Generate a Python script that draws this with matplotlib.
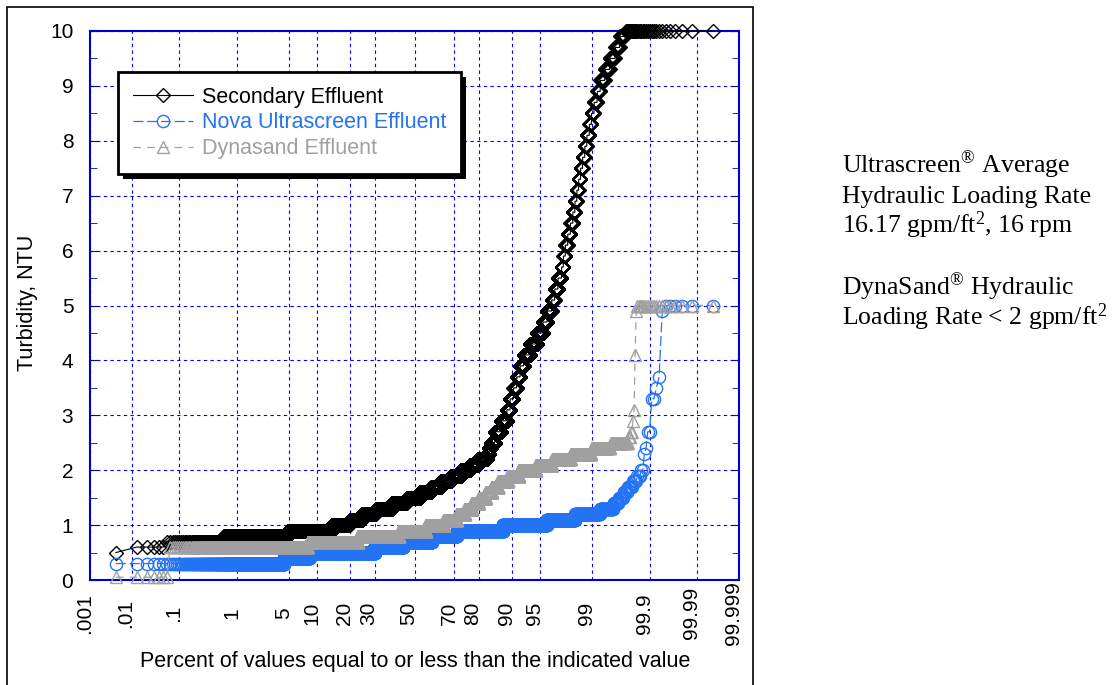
import numpy as np
import matplotlib
matplotlib.use("Agg")
import matplotlib.pyplot as plt
from matplotlib.patches import Rectangle
from matplotlib.transforms import IdentityTransform
from matplotlib.ticker import MultipleLocator, NullLocator
from statistics import NormalDist

# turbidity levels (NTU) and number of readings at each level
sec_turb = [0.5, 0.6, 0.7, 0.8, 0.9, 1.0, 1.1, 1.2, 1.3, 1.4, 1.5, 1.6, 1.7, 1.8, 1.9,
            2.0, 2.1, 2.2, 2.3, 2.4, 2.5, 2.7, 2.9, 3.1, 3.3, 3.5, 3.7, 3.9, 4.1, 4.3,
            4.5, 4.7, 4.9, 5.1, 5.3, 5.5, 5.7, 5.9, 6.1, 6.3, 6.5, 6.7, 6.9, 7.1, 7.3,
            7.5, 7.7, 7.9, 8.1, 8.3, 8.5, 8.7, 8.9, 9.1, 9.3, 9.5, 9.7, 9.9, 10.0]
sec_count = [1, 5, 63, 483, 1058, 650, 560, 678, 909, 862, 805, 690, 575, 541, 494,
             437, 357, 368, 80, 81, 126, 196, 184, 92, 92, 80, 81, 80, 127, 126,
             92, 58, 57, 35, 34, 35, 17, 17, 20, 20, 18, 14, 12, 11, 11,
             11, 11, 10, 11, 9, 10, 11, 10, 13, 12, 11, 8, 8, 32]

nova_turb = [0.3, 0.4, 0.5, 0.6, 0.7, 0.8, 0.9, 1.0, 1.1, 1.2, 1.3, 1.4, 1.5, 1.6,
             1.7, 1.8, 1.9, 2.0, 2.3, 2.4, 2.7, 3.3, 3.5, 3.7, 4.9, 5.0]
nova_count = [495, 471, 2484, 1599, 1725, 1391, 1932, 932, 272, 115, 33, 9, 7, 6,
              5, 4, 3, 2, 1, 1, 2, 2, 1, 1, 1, 6]

dyna_turb = [0.05, 0.6, 0.7, 0.8, 0.9, 1.0, 1.1, 1.2, 1.3, 1.4, 1.5, 1.6, 1.7, 1.8,
             1.9, 2.0, 2.1, 2.2, 2.3, 2.4, 2.5, 2.6, 2.7, 2.9, 3.1, 4.1, 4.9, 5.0]
dyna_count = [7, 913, 1725, 2185, 1610, 1035, 690, 403, 345, 287, 288, 230, 230, 287,
              288, 345, 230, 172, 115, 58, 29, 2, 2, 1, 1, 1, 1, 20]

pct_ticks = [0.001, 0.01, 0.1, 1, 5, 10, 20, 30, 50, 70, 80, 90, 95, 99, 99.9, 99.99, 99.999]
pct_labels = [".001", ".01", ".1", "1", "5", "10", "20", "30", "50", "70", "80", "90",
              "95", "99", "99.9", "99.99", "99.999"]

_nd = NormalDist()
_ppf = np.vectorize(lambda v: _nd.inv_cdf(v / 100.0), otypes=[float])
_cdf = np.vectorize(lambda v: 100.0 * _nd.cdf(v), otypes=[float])


def pct_to_z(p):
    p = np.clip(np.asarray(p, dtype=float), 1e-7, 100 - 1e-7)
    return _ppf(p)


def z_to_pct(z):
    return _cdf(np.asarray(z, dtype=float))


def sorted_sample(turb, count):
    vals = np.repeat(turb, count)
    n = len(vals)
    pos = 100.0 * (np.arange(1, n + 1) - 0.5) / n
    return pos, vals


plt.rcParams["font.family"] = ["Liberation Sans", "DejaVu Sans"]
plt.rcParams["mathtext.fontset"] = "custom"
plt.rcParams["mathtext.rm"] = "Liberation Serif"
plt.rcParams["mathtext.it"] = "Liberation Serif:italic"

W, H = 1117, 685
fig = plt.figure(figsize=(W / 100, H / 100), dpi=100)
ax = fig.add_axes([90 / W, (H - 580) / H, 649 / W, 549 / H])
ax.set_xscale("function", functions=(pct_to_z, z_to_pct))

blue = "#2373f5"
grey = "#a0a0a0"

x, y = sorted_sample(sec_turb, sec_count)
ax.plot(x, y, color="black", lw=0.8, marker="D", ms=6.8, mfc="none", mew=1.0,
        label="Secondary Effluent", clip_on=False, zorder=3)
x, y = sorted_sample(nova_turb, nova_count)
ax.plot(x, y, color=blue, lw=0.9, ls=(0, (8, 3)), marker="o", ms=8.8, mfc="none",
        mew=1.0, label="Nova Ultrascreen Effluent", clip_on=False, zorder=3)
x, y = sorted_sample(dyna_turb, dyna_count)
ax.plot(x, y, color=grey, lw=0.9, ls=(0, (6, 5)), marker="^", ms=8.5, mfc="none",
        mew=1.0, label="Dynasand Effluent", clip_on=False, zorder=3)

ax.set_xlim(0.001, 99.999)
ax.set_ylim(0, 10)
ax.set_xticks(pct_ticks, pct_labels, rotation=90, ha="center", va="baseline",
              rotation_mode="anchor", fontsize=15)
ax.xaxis.set_minor_locator(NullLocator())
ax.set_yticks(range(11))
ax.yaxis.set_minor_locator(MultipleLocator(0.5))
ax.tick_params(axis="y", which="both", direction="in", left=True, right=True,
               color="#0000cc", labelsize=15, pad=12)
ax.tick_params(axis="y", which="major", length=6)
ax.tick_params(axis="y", which="minor", length=5)
ax.tick_params(axis="x", length=0, pad=24)

ax.grid(True, which="major", color="#0000ff", ls=(0, (3, 3)), lw=0.8)
for s in ax.spines.values():
    s.set_color("#0000cc")
    s.set_linewidth(1.5)

leg = ax.legend(loc="upper left", bbox_to_anchor=(28 / 649, (580 - 72) / 549),
                borderaxespad=0, frameon=True, fancybox=False, edgecolor="black",
                framealpha=1, labelcolor="linecolor", prop={"size": 15.5},
                handlelength=2.8, handletextpad=0.4, borderpad=0.68,
                labelspacing=0.22)
leg.get_frame().set_linewidth(2)

fig.text(27 / W, 1 - 303 / H, "Turbidity, NTU", rotation=90, ha="center",
         va="center", fontsize=15.5)
fig.text(415 / W, 1 - 662 / H, "Percent of values equal to or less than the indicated value",
         ha="center", va="center", fontsize=15.5)

note_lines = [
    (173, r"Ultrascreen$^{\mathrm{®}}$ Average"),
    (203, "Hydraulic Loading Rate"),
    (233, r"16.17 gpm/ft$^{\mathrm{2}}$, 16 rpm"),
    (295, r"DynaSand$^{\mathrm{®}}$ Hydraulic"),
    (325, r"Loading Rate < 2 gpm/ft$^{\mathrm{2}}$"),
]
for ypx, txt in note_lines:
    fig.text(842 / W, 1 - ypx / H, txt, ha="left", va="baseline", fontsize=18.5,
             family="Liberation Serif")

fig.add_artist(Rectangle((7 / W, -0.05), (753 - 7) / W, 1 - 7 / H + 0.05,
                         transform=fig.transFigure, fill=False, lw=1.2,
                         edgecolor="black"))

# solid drop shadow behind the legend box
fig.canvas.draw()
bb = leg.get_window_extent()
ax.add_artist(Rectangle((bb.x0 + 5, bb.y0 - 5), bb.width, bb.height,
                        transform=IdentityTransform(), facecolor="black",
                        edgecolor="none", zorder=4.9, clip_on=False))

fig.savefig("out.png", dpi=100)
plt.close(fig)
